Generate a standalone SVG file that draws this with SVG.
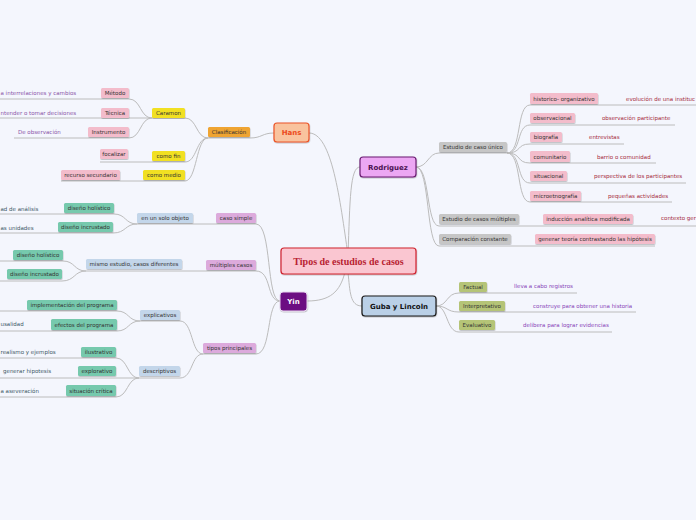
<svg xmlns="http://www.w3.org/2000/svg" width="696" height="520" viewBox="0 0 696 520">
<defs>
<filter id="sh" x="-10%" y="-20%" width="120%" height="150%"><feDropShadow dx="0.4" dy="0.8" stdDeviation="0.5" flood-color="#000" flood-opacity="0.25"/></filter>
</defs>
<style>
text{font-family:"DejaVu Sans",Verdana,sans-serif;font-size:5.5px;fill:#333}
.c{text-anchor:middle}
.e{text-anchor:end}
.b rect{filter:url(#sh)}
.pink rect{fill:#f3bccb}
.yel rect{fill:#f1e021}
.org rect{fill:#efa431}
.gry rect{fill:#c6c6c6}
.grn rect{fill:#b5c477}
.teal rect{fill:#76c9ad}
.blu rect{fill:#c3d6ea}
.vio rect{fill:#dcaadc}
.lp{fill:#8a55a8}
.lr{fill:#a52a3c}
.ls{fill:#3d5866}
.lg{fill:#8844b8}
#conn path{fill:none;stroke:#bcbcbc;stroke-width:1}
.main text{font-weight:bold;font-size:7px}
</style>
<rect width="696" height="520" fill="#f4f6fd"/>
<g id="conn">
<path d="M309,133 C332,133 340,200 348,255"/>
<path d="M360,167 C350,167 350,200 348,255"/>
<path d="M307,301 C330,301 340,292 345,272"/>
<path d="M362,306 C350,306 350,292 348,272"/>
<path d="M274,133 C262,133 262,138 250,138 L208,138"/>
<path d="M208,138 C196,138 197,118 185,118 L152,118"/>
<path d="M152,118 C140,118 141,99 129,99 L0,99"/>
<path d="M152,118 L0,118"/>
<path d="M152,118 C140,118 141,138 129,138 L14,138"/>
<path d="M208,138 C196,138 197,162 185,162 L100,162"/>
<path d="M208,138 C196,138 197,181 185,181 L61,181"/>
<path d="M416,167 C428,167 428,153 439,153 L507,153"/>
<path d="M416,167 C430,167 426,226 439,226 L696,226"/>
<path d="M416,167 C430,167 426,246 439,246 L655,246"/>
<path d="M507,153 C522,153 516,105 530,105 L696,105"/>
<path d="M507,153 C522,153 516,125 530,125 L675,125"/>
<path d="M507,153 C522,153 516,144 530,144 L624,144"/>
<path d="M507,153 C522,153 516,163 530,163 L656,163"/>
<path d="M507,153 C522,153 516,183 530,183 L686,183"/>
<path d="M507,153 C522,153 516,202 530,202 L672,202"/>
<path d="M436,306 C448,306 446,293 459,293 L577,293"/>
<path d="M436,306 C448,306 446,312 459,312 L636,312"/>
<path d="M436,306 C448,306 446,332 459,332 L612,332"/>
<path d="M280,301 C266,301 272,224 256,224 L137,224"/>
<path d="M280,301 C266,301 272,271 256,271 L86,271"/>
<path d="M280,301 C266,301 272,354 256,354 L203,354"/>
<path d="M137,224 C125,224 126,214 114,214 L0,214"/>
<path d="M137,224 C125,224 126,233 113,233 L0,233"/>
<path d="M86,271 C74,271 75,261 63,261 L0,261"/>
<path d="M86,271 C74,271 75,281 62,281 L0,281"/>
<path d="M203,354 C191,354 193,321 180,321 L140,321"/>
<path d="M203,354 C191,354 193,378 180,378 L139,378"/>
<path d="M140,321 C128,321 129,311 117,311 L0,311"/>
<path d="M140,321 C128,321 129,331 117,331 L0,331"/>
<path d="M139,378 C127,378 128,358 116,358 L0,358"/>
<path d="M139,378 L0,378"/>
<path d="M139,378 C127,378 128,397 116,397 L0,397"/>
</g>
<g id="central"><rect x="281" y="248" width="135" height="26" rx="3" fill="#fac6d1" stroke="#d0222e" stroke-width="1.2" filter="url(#sh)"/><text x="348.5" y="264.5" class="c" style="font-family:'Liberation Serif',serif;font-size:10px;font-weight:bold;fill:#b82232">Tipos de estudios de casos</text></g>
<g id="hans" class="main"><rect x="274" y="123" width="35" height="19" rx="3" fill="#f9c39e" stroke="#ec5428" stroke-width="1.2" filter="url(#sh)"/><text x="291.5" y="135" class="c" style="fill:#ec4a1c">Hans</text></g>
<g id="rodriguez" class="main"><rect x="360" y="157" width="56" height="20" rx="3" fill="#eca7f3" stroke="#6a1c72" stroke-width="1.2" filter="url(#sh)"/><text x="388" y="169.5" class="c" style="fill:#4a1252">Rodriguez</text></g>
<g id="yin" class="main"><rect x="280" y="292" width="27" height="19" rx="3" fill="#6c0a82" stroke="#e8d8ee" stroke-width="1" filter="url(#sh)"/><text x="293.5" y="304" class="c" style="fill:#fff">Yin</text></g>
<g id="guba" class="main"><rect x="362" y="296" width="74" height="20" rx="3" fill="#bad0e7" stroke="#1a1a1a" stroke-width="1.2" filter="url(#sh)"/><text x="399" y="308.5" class="c" style="fill:#111">Guba y Lincoln</text></g>

<g id="clasificacion" class="b org"><rect x="208" y="127" width="42" height="10" rx="1.5"/><text x="229" y="134" class="c">Clasificación</text></g>
<g id="caramon" class="b yel"><rect x="152" y="108" width="33" height="10" rx="1.5"/><text x="168.5" y="115" class="c">Caramon</text></g>
<g id="comofin" class="b yel"><rect x="152" y="151" width="33" height="10" rx="1.5"/><text x="168.5" y="158" class="c">como fin</text></g>
<g id="comomedio" class="b yel"><rect x="143" y="170" width="42" height="10" rx="1.5"/><text x="164" y="177" class="c">como medio</text></g>
<g id="metodo" class="b pink"><rect x="101" y="88" width="28" height="10" rx="1.5"/><text x="115" y="95" class="c">Método</text></g>
<g id="tecnica" class="b pink"><rect x="101" y="108" width="28" height="10" rx="1.5"/><text x="115" y="115" class="c">Técnica</text></g>
<g id="instrumento" class="b pink"><rect x="88" y="127" width="41" height="10" rx="1.5"/><text x="108.5" y="134" class="c">Instrumento</text></g>
<g id="focalizar" class="b pink"><rect x="100" y="149" width="28" height="10" rx="1.5"/><text x="114" y="156" class="c">focalizar</text></g>
<g id="recurso" class="b pink"><rect x="61" y="170" width="59" height="10" rx="1.5"/><text x="90.5" y="177" class="c">recurso secundario</text></g>
<g id="l-metodo"><text x="0.5" y="95" class="lp">a interrelaciones y cambios</text></g>
<g id="l-tecnica"><text x="0.5" y="115" class="lp">ntender o tomar decisiones</text></g>
<g id="l-instr"><text x="18" y="134" class="lp">De observación</text></g>

<g id="unico" class="b gry"><rect x="439" y="142" width="68" height="10" rx="1.5"/><text x="473" y="149" class="c">Estudio de caso único</text></g>
<g id="multiples" class="b gry"><rect x="439" y="214" width="80" height="10" rx="1.5"/><text x="479" y="221" class="c">Estudio de casos múltiples</text></g>
<g id="comparacion" class="b gry"><rect x="439" y="234" width="72" height="10" rx="1.5"/><text x="475" y="241" class="c">Comparación constante</text></g>
<g id="historico" class="b pink"><rect x="530" y="93" width="68" height="11" rx="1.5"/><text x="564" y="100.5" class="c">historico- organizativo</text></g>
<g id="observacional" class="b pink"><rect x="530" y="113" width="45" height="10" rx="1.5"/><text x="552.5" y="120" class="c">observacional</text></g>
<g id="biografia" class="b pink"><rect x="530" y="132" width="32" height="10" rx="1.5"/><text x="546" y="139" class="c">biografía</text></g>
<g id="comunitario" class="b pink"><rect x="530" y="151" width="40" height="11" rx="1.5"/><text x="550" y="158.5" class="c">comunitario</text></g>
<g id="situacional" class="b pink"><rect x="530" y="171" width="37" height="10" rx="1.5"/><text x="548.5" y="178" class="c">situacional</text></g>
<g id="microetno" class="b pink"><rect x="530" y="191" width="51" height="10" rx="1.5"/><text x="555.5" y="198" class="c">microetnografía</text></g>
<g id="induccion" class="b pink"><rect x="543" y="214" width="90" height="10" rx="1.5"/><text x="588" y="221" class="c">inducción analítica modificada</text></g>
<g id="generar" class="b pink"><rect x="535" y="234" width="120" height="10" rx="1.5"/><text x="595" y="241" class="c">generar teoría contrastando las hipótesis</text></g>
<g id="l-historico"><text x="626" y="101" class="lr">evolución de una instituc</text></g>
<g id="l-observ"><text x="602" y="120" class="lr">observación participante</text></g>
<g id="l-biografia"><text x="589" y="139" class="lr">entrevistas</text></g>
<g id="l-comunit"><text x="597" y="158.5" class="lr">barrio o comunidad</text></g>
<g id="l-situac"><text x="594" y="178" class="lr">perspectiva de los participantes</text></g>
<g id="l-micro"><text x="608" y="198" class="lr">pequeñas actividades</text></g>
<g id="l-induccion"><text x="661" y="220" class="lr">contexto ger</text></g>

<g id="factual" class="b grn"><rect x="459" y="282" width="28" height="10" rx="1.5"/><text x="473" y="289" class="c">Factual</text></g>
<g id="interpretativo" class="b grn"><rect x="459" y="301" width="46" height="10" rx="1.5"/><text x="482" y="308" class="c">Interpretativo</text></g>
<g id="evaluativo" class="b grn"><rect x="459" y="320" width="36" height="10" rx="1.5"/><text x="477" y="327" class="c">Evaluativo</text></g>
<g id="l-factual"><text x="514" y="288" class="lg">lleva a cabo registros</text></g>
<g id="l-interp"><text x="533" y="308" class="lg">construye para obtener una historia</text></g>
<g id="l-eval"><text x="523" y="327" class="lg">delibera para lograr evidencias</text></g>

<g id="casosimple" class="b vio"><rect x="216" y="213" width="40" height="10" rx="1.5"/><text x="236" y="220" class="c">caso simple</text></g>
<g id="multcasos" class="b vio"><rect x="206" y="260" width="50" height="10" rx="1.5"/><text x="231" y="267" class="c">múltiples casos</text></g>
<g id="tipos" class="b vio"><rect x="203" y="343" width="53" height="10" rx="1.5"/><text x="229.5" y="350" class="c">tipos principales</text></g>
<g id="solo" class="b blu"><rect x="137" y="213" width="56" height="10" rx="1.5"/><text x="165" y="220" class="c">en un solo objeto</text></g>
<g id="mismo" class="b blu"><rect x="86" y="259" width="96" height="10" rx="1.5"/><text x="134" y="266" class="c">mismo estudio, casos diferentes</text></g>
<g id="explicativos" class="b blu"><rect x="140" y="310" width="40" height="10" rx="1.5"/><text x="160" y="317" class="c">explicativos</text></g>
<g id="descriptivos" class="b blu"><rect x="139" y="366" width="41" height="10" rx="1.5"/><text x="159.5" y="373" class="c">descriptivos</text></g>
<g id="holistico1" class="b teal"><rect x="64" y="203" width="50" height="10" rx="1.5"/><text x="89" y="210" class="c">diseño holístico</text></g>
<g id="incrustado1" class="b teal"><rect x="58" y="222" width="55" height="10" rx="1.5"/><text x="85.5" y="229" class="c">diseño incrustado</text></g>
<g id="holistico2" class="b teal"><rect x="13" y="250" width="50" height="10" rx="1.5"/><text x="38" y="257" class="c">diseño holístico</text></g>
<g id="incrustado2" class="b teal"><rect x="7" y="269" width="55" height="10" rx="1.5"/><text x="34.5" y="276" class="c">diseño incrustado</text></g>
<g id="implementacion" class="b teal"><rect x="27" y="300" width="90" height="10" rx="1.5"/><text x="72" y="307" class="c">implementación del programa</text></g>
<g id="efectos" class="b teal"><rect x="51" y="319" width="66" height="11" rx="1.5"/><text x="84" y="326.5" class="c">efectos del programa</text></g>
<g id="ilustrativo" class="b teal"><rect x="81" y="347" width="35" height="10" rx="1.5"/><text x="98.5" y="354" class="c">ilustrativo</text></g>
<g id="explorativo" class="b teal"><rect x="78" y="366" width="38" height="10" rx="1.5"/><text x="97" y="373" class="c">explorativo</text></g>
<g id="critica" class="b teal"><rect x="66" y="385" width="50" height="11" rx="1.5"/><text x="91" y="392.5" class="c">situación crítica</text></g>
<g id="l-hol1"><text x="0.5" y="211" class="ls">ad de análisis</text></g>
<g id="l-inc1"><text x="0.5" y="230" class="ls">as unidades</text></g>
<g id="l-efectos"><text x="0.5" y="326" class="ls">usalidad</text></g>
<g id="l-ilus"><text x="0.5" y="354" class="ls">realismo y ejemplos</text></g>
<g id="l-explor"><text x="3" y="373" class="ls">generar hipotesis</text></g>
<g id="l-critica"><text x="0.5" y="393" class="ls">a aseveración</text></g>
</svg>
